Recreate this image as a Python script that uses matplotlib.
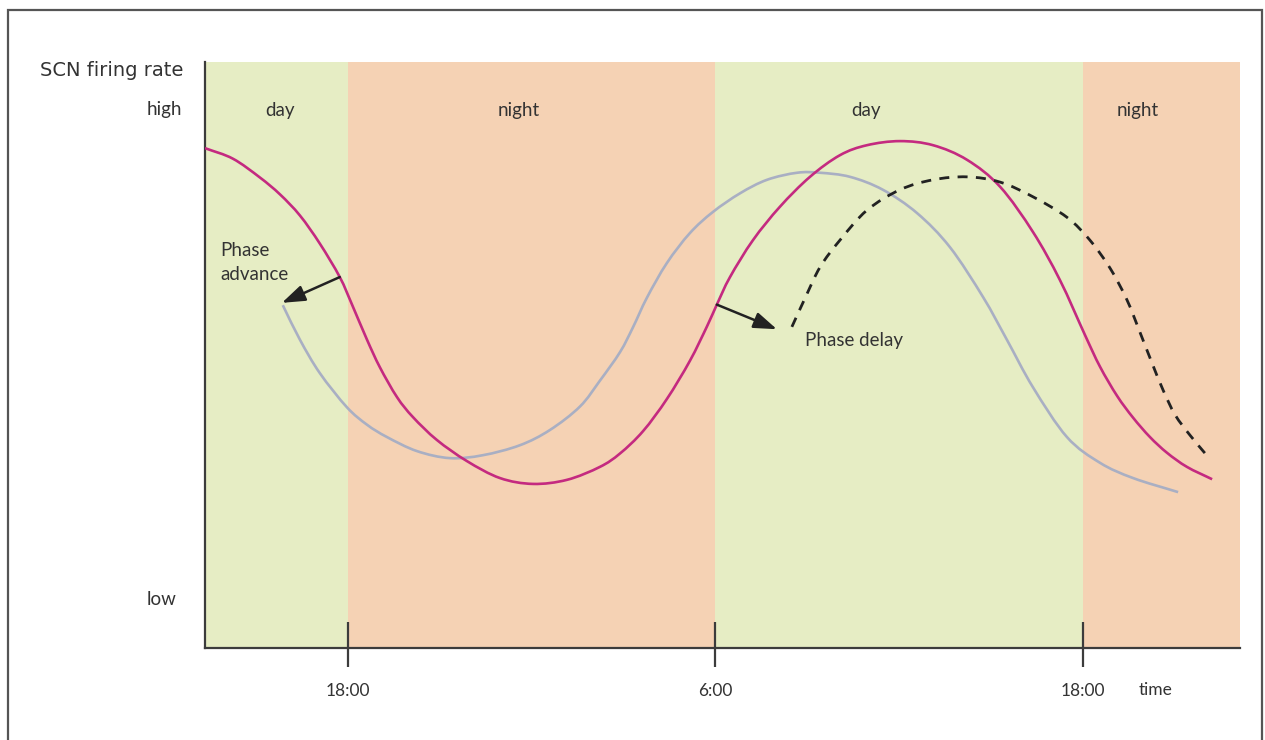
import matplotlib
matplotlib.use("Agg")
import matplotlib.pyplot as plt
from matplotlib.patches import Rectangle, PathPatch
from matplotlib.path import Path
import numpy as np

plt.rcParams['font.family'] = ['Lato', 'DejaVu Sans']

# ---- data (x in hours after 12:00 of day 1, y = relative firing rate 0..100) ----
x_min, x_max = 1.34, 35.13
band_edges = [1.34, 6, 18, 30, 35.13]
band_kinds = ['day', 'night', 'day', 'night']
band_label_x = [3.79, 11.59, 22.92, 31.80]

tick_pos = [6, 18, 30]
tick_labels = ['18:00', '6:00', '18:00']

y_tick_pos = [8.5, 92.2]
y_tick_labels = ['low', 'high']

normal_x = [1.34, 2.25, 3.13, 3.79, 4.44, 5.09, 5.74, 6.14, 6.63, 7.05, 7.61,
            8.13, 8.91, 9.89, 10.97, 12.05, 13.16, 14.23, 14.89, 15.64, 16.42,
            17.17, 17.73, 18.05, 18.48, 19.23, 20.11, 21.09, 22.07, 22.95, 24.03,
            25.11, 26.22, 27.30, 28.37, 29.25, 30.07, 30.56, 31.12, 31.64, 32.19,
            32.75, 33.40, 34.22]
normal_y = [85.3, 83.5, 80.3, 77.4, 73.8, 69.0, 63.3, 58.6, 52.6, 47.9, 42.8,
            39.4, 35.5, 31.9, 29.0, 28.0, 28.7, 30.9, 33.2, 37.0, 42.5,
            49.0, 54.9, 58.6, 63.3, 69.6, 75.3, 80.4, 84.1, 85.8, 86.5,
            85.8, 83.3, 78.7, 71.0, 62.8, 53.4, 48.0, 43.0, 39.3, 36.0,
            33.3, 30.9, 28.8]

advance_x = [3.88, 4.44, 5.09, 5.97, 6.63, 7.28, 8.26, 9.34, 10.41, 11.62, 12.60,
             13.58, 14.23, 14.89, 15.31, 15.77, 16.42, 17.17, 17.92, 18.81, 19.69,
             20.67, 21.42, 22.40, 23.47, 24.59, 25.66, 26.74, 27.52, 28.37, 29.48,
             30.56, 31.64, 33.11]
advance_y = [58.5, 52.6, 46.9, 41.1, 38.1, 36.0, 33.6, 32.4, 32.9, 34.6, 37.2,
             41.2, 45.6, 50.5, 54.7, 59.8, 65.7, 70.8, 74.4, 77.6, 79.9,
             81.1, 81.1, 80.4, 78.2, 74.2, 68.4, 59.9, 52.6, 44.5, 36.0,
             31.6, 29.0, 26.6]

delay_x = [20.50, 20.93, 21.42, 22.07, 22.95, 24.03, 25.11, 26.22, 27.30, 28.37,
           29.48, 30.23, 30.89, 31.44, 31.87, 32.26, 32.62, 33.01, 33.50, 34.09]
delay_y = [54.8, 59.7, 65.0, 69.6, 74.7, 78.2, 79.9, 80.4, 79.5, 77.0,
           73.5, 69.6, 64.8, 59.4, 53.8, 48.6, 44.0, 39.8, 36.3, 32.6]

# arrows (start on normal curve -> shifted curve)
adv_arrow = [(5.74, 63.3), (3.85, 58.9)]
del_arrow = [(18.05, 58.6), (20.01, 54.4)]

# ---- styling ----
GREEN = '#e6edc4'
PEACH = '#f5d2b4'
MAGENTA = '#c42a80'
GRAY = '#a9afc3'
TXT = '#333333'
AX = '#3c3c3c'
FS = 13.5


def smooth_path(xs, ys):
    """Smooth curve through the data points (Catmull-Rom rendered as cubic Beziers)."""
    p = np.column_stack([xs, ys]).astype(float)
    ext = np.vstack([p[0] - (p[1] - p[0]), p, p[-1] + (p[-1] - p[-2])])
    verts = [tuple(p[0])]
    codes = [Path.MOVETO]
    for i in range(1, len(ext) - 2):
        p0, p1, p2, p3 = ext[i - 1], ext[i], ext[i + 1], ext[i + 2]
        c1 = p1 + (p2 - p0) / 6.0
        c2 = p2 - (p3 - p1) / 6.0
        verts += [tuple(c1), tuple(c2), tuple(p2)]
        codes += [Path.CURVE4] * 3
    return Path(verts, codes)


fig = plt.figure(figsize=(12.65, 7.40), dpi=100)
ax = fig.add_axes([205/1265, 1 - 648/740, (1240 - 205)/1265, (648 - 62)/740])

for (a, b), kind in zip(zip(band_edges[:-1], band_edges[1:]), band_kinds):
    ax.axvspan(a, b, color=GREEN if kind == 'day' else PEACH, lw=0, zorder=0)
for xl, kind in zip(band_label_x, band_kinds):
    ax.text(xl, 90.7, kind, ha='center', va='baseline', fontsize=FS, color=TXT)

ax.add_patch(PathPatch(smooth_path(advance_x, advance_y), fill=False,
                       edgecolor=GRAY, lw=1.9, capstyle='butt', zorder=2))
ax.add_patch(PathPatch(smooth_path(normal_x, normal_y), fill=False,
                       edgecolor=MAGENTA, lw=1.9, capstyle='butt', zorder=3))
ax.add_patch(PathPatch(smooth_path(delay_x, delay_y), fill=False,
                       edgecolor='#222222', lw=2.0, linestyle=(0, (3.6, 3.0)),
                       capstyle='butt', zorder=3))

for (s, e) in (adv_arrow, del_arrow):
    ax.annotate('', xy=e, xytext=s,
                arrowprops=dict(arrowstyle='-|>,head_length=1.0,head_width=0.35',
                                color='#222222', lw=1.8, shrinkA=0, shrinkB=0,
                                mutation_scale=14), zorder=4)

ax.text(1.83, 66.9, 'Phase', ha='left', va='baseline', fontsize=FS, color=TXT)
ax.text(1.83, 62.8, 'advance', ha='left', va='baseline', fontsize=FS, color=TXT)
ax.text(20.93, 51.6, 'Phase delay', ha='left', va='baseline', fontsize=FS, color=TXT)

ax.set_xlim(x_min, x_max)
ax.set_ylim(0, 100)

# ticks crossing the x axis
ax.vlines(tick_pos, -3.2, 4.4, color=AX, lw=1.6, clip_on=False, zorder=5)
ax.set_xticks(tick_pos)
ax.set_xticklabels(tick_labels)
ax.tick_params(axis='x', length=0, pad=25, labelsize=12.5, labelcolor=TXT)
ax.text(32.36, -8.0, 'time', ha='center', va='baseline', fontsize=12.5, color=TXT,
        clip_on=False)

ax.set_yticks(y_tick_pos)
ax.set_yticklabels(y_tick_labels)
ax.tick_params(axis='y', length=0, pad=42, labelsize=FS, labelcolor=TXT)
for lab in ax.get_yticklabels():
    lab.set_horizontalalignment('left')

for side in ('top', 'right'):
    ax.spines[side].set_visible(False)
for side in ('left', 'bottom'):
    ax.spines[side].set_color(AX)
    ax.spines[side].set_linewidth(1.6)

fig.text(40/1265, 1 - 70/740, 'SCN firing rate', ha='left', va='center',
         fontsize=14, color=TXT, family=['DejaVu Sans'])

frame = Rectangle((8/1265, -0.05), (1262 - 8)/1265, 1.05 - 10/740,
                  transform=fig.transFigure, fill=False, edgecolor='#555555',
                  lw=1.6, clip_on=False)
fig.add_artist(frame)

fig.savefig('out.png', dpi=100)
